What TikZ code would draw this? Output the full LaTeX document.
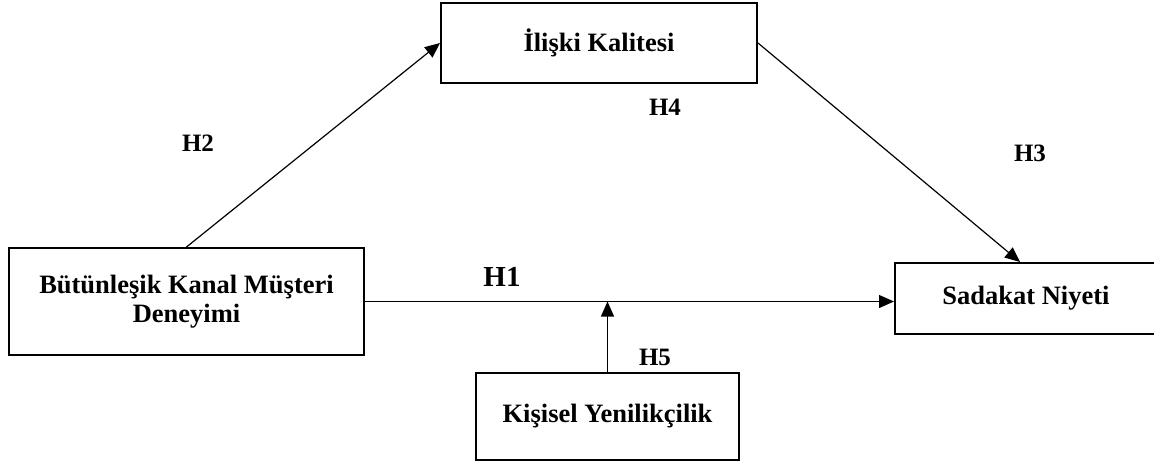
\documentclass[tikz,border=0pt]{standalone}
\usepackage{fontspec}
\setmainfont{Liberation Serif}
\usetikzlibrary{arrows.meta}

\tikzset{
    kutu/.style={draw, line width=2pt, align=center, inner sep=0pt,
        font=\bfseries\fontsize{26.5}{29}\selectfont},
    yol/.style={line width=1.2pt, -{Triangle[length=15pt,width=13pt]}},
    etiket/.style={font=\bfseries\fontsize{25}{28}\selectfont}
}

\begin{document}
\begin{tikzpicture}[x=1pt, y=-1pt]
    \useasboundingbox (0,0) rectangle (1154,463);
    \clip (0,0) rectangle (1154,463);

    % Draw the four construct boxes
    \node[kutu, minimum width=355pt, minimum height=107pt] (bkm) at (186.5,301.5)
        {Bütünleşik Kanal Müşteri\\Deneyimi};
    \node[kutu, minimum width=316pt, minimum height=80pt] (ik) at (599,43) {İlişki Kalitesi};
    \node[kutu, minimum width=290pt, minimum height=71pt] (sn) at (1040,298.5)
        {\hspace*{-28pt}Sadakat Niyeti};
    \node[kutu, minimum width=263pt, minimum height=87pt] (ky) at (607.5,416.5) {Kişisel Yenilikçilik};

    % Draw the paths between them
    \draw[yol] (bkm.north) -- (ik.west);
    \draw[yol] (ik.east) -- (sn.north -| 1020,0);
    \draw[yol] (bkm.east) -- (bkm.east -| sn.west);
    \draw[yol] (ky.north) -- (ky.north |- bkm.east);

    % Hypothesis labels
    \node[etiket] (h2) at (198,143) {H2};
    \node[etiket] (h4) at (665,107) {H4};
    \node[etiket] (h3) at (1030,153) {H3};
    \node[etiket, font=\bfseries\fontsize{29}{32}\selectfont] (h1) at (502,277) {H1};
    \node[etiket] (h5) at (655,357) {H5};

\end{tikzpicture}
\end{document}
